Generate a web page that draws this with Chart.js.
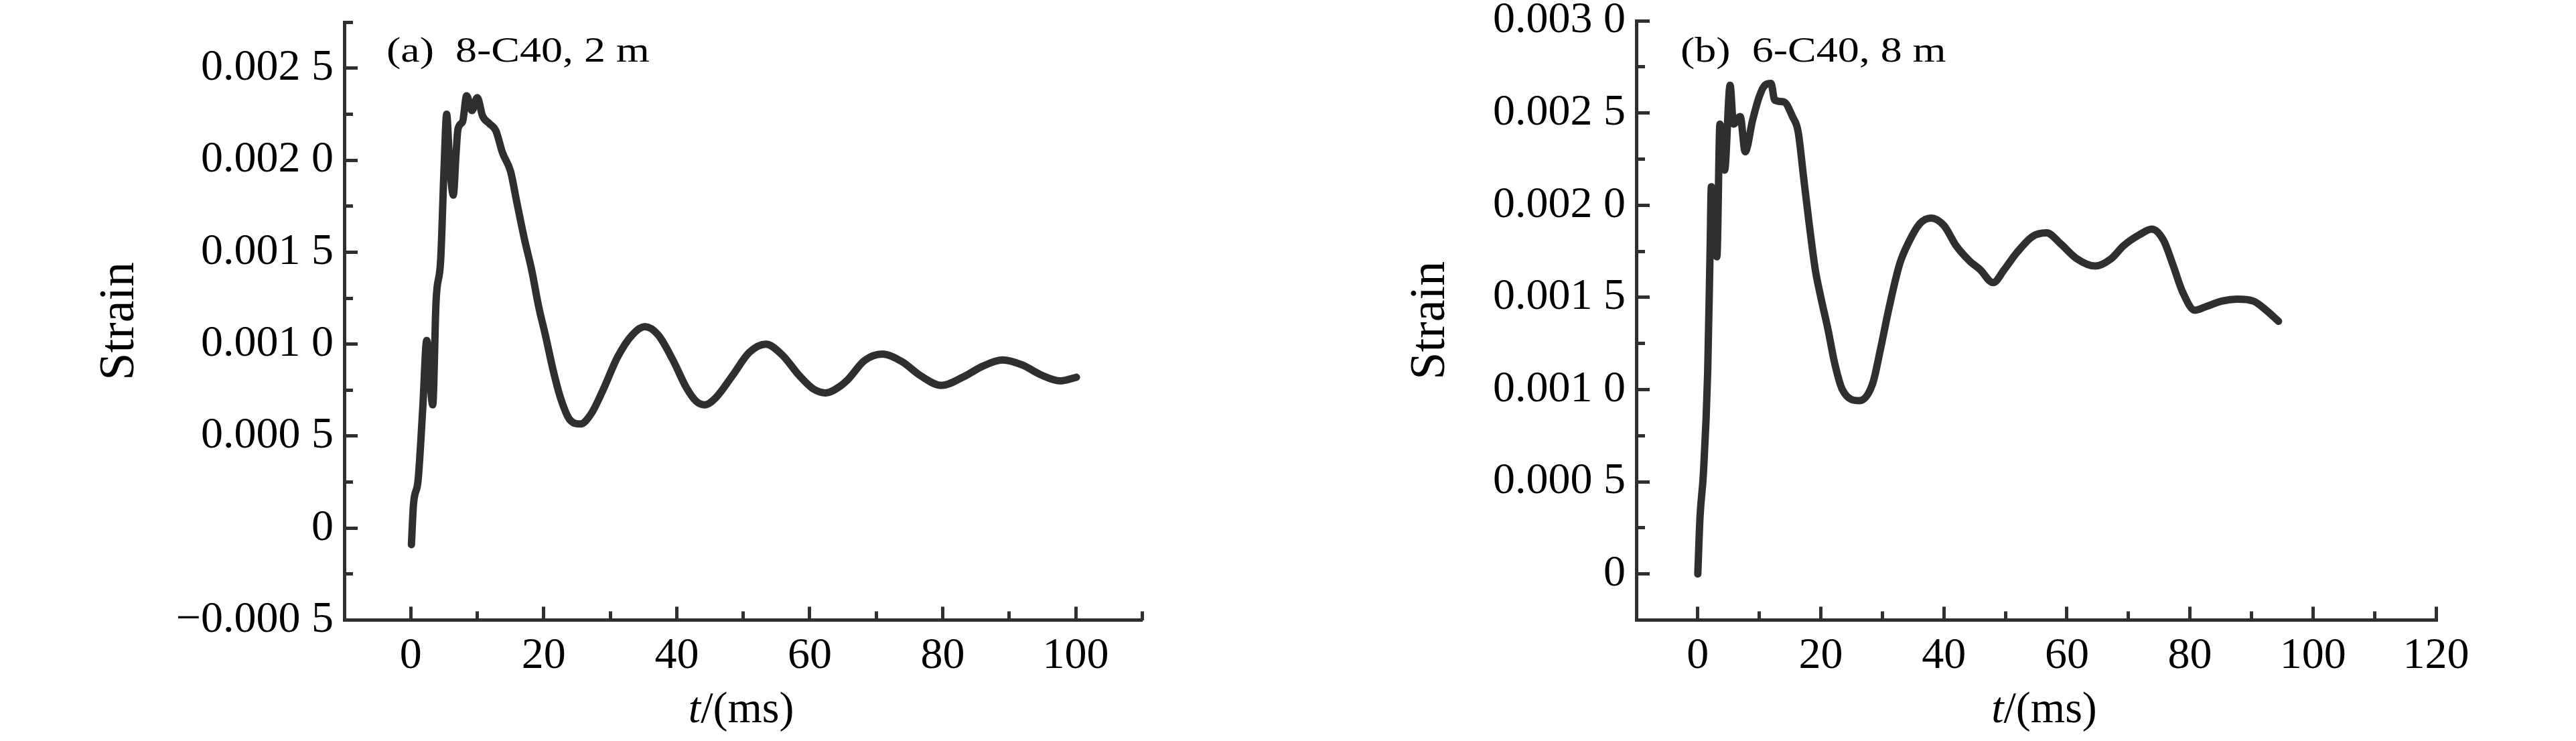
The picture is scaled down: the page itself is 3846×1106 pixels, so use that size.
<!DOCTYPE html>
<html>
<head>
<meta charset="UTF-8">
<title>Strain</title>
<script src="https://cdn.jsdelivr.net/npm/chart.js"></script>
<style>
  html, body { margin: 0; padding: 0; background: #fff; }
  .panel { position: absolute; top: 0; width: 1923px; height: 1106px; }
</style>
</head>
<body>
<div class="panel" style="left:0"><canvas id="chartA"></canvas></div>
<div class="panel" style="left:1923px"><canvas id="chartB"></canvas></div>

<script>
    // (a) 8-C40, 2 m
    const tA = [0.1, 0.4, 1.1, 1.8, 2.4, 3.3, 3.8, 4.5, 5.0, 5.4, 5.8, 6.4, 6.8, 7.1, 7.8, 8.4, 9.2, 10.0,
        10.8, 11.8, 12.8, 13.8, 15.0, 15.9, 17.1, 18.2, 19.2, 20.3, 21.4, 22.5, 23.9, 25.5, 27.1, 28.9,
        31.1, 33.3, 35.2, 37.2, 39.4, 41.5, 42.9, 44.2, 45.9, 48.4, 50.9, 53.4, 55.9, 58.4, 60.6, 62.4,
        64.5, 65.8, 68.2, 70.9, 73.9, 76.6, 79.8, 83.0, 86.0, 89.0, 92.0, 94.7, 97.7, 100.1];
    const strainA = [-0.00009, 0.000125, 0.00026, 0.00065, 0.00102, 0.00067, 0.00123, 0.00146, 0.00195,
        0.00225, 0.00201, 0.00181, 0.00203, 0.00217, 0.00221, 0.00235, 0.00227, 0.00234, 0.00224, 0.0022,
        0.00216, 0.00204, 0.00194, 0.00178, 0.00157, 0.0014, 0.00121, 0.00104, 0.00086, 0.00071, 0.00059,
        0.000566, 0.00062, 0.00075, 0.00093, 0.00105, 0.001095, 0.00105, 0.000915, 0.00076, 0.00069,
        0.00067, 0.00071, 0.00083, 0.000955, 0.001, 0.00094, 0.00083, 0.000755, 0.000735, 0.00077,
        0.00081, 0.00091, 0.000946, 0.000904, 0.00083, 0.000776, 0.00082, 0.00088, 0.000914, 0.000886,
        0.000834, 0.0008, 0.00082];

    // (b) 6-C40, 8 m
    const tB = [0.0, 0.36, 0.9, 1.6, 2.0, 2.2, 2.65, 3.1, 3.6, 4.35, 5.25, 5.8, 6.9, 7.7, 8.9, 10.0, 10.9,
        11.9, 12.5, 14.0, 15.4, 16.3, 17.2, 18.1, 19.1, 20.0, 21.2, 22.2, 23.5, 26.3, 28.4, 29.7, 31.0,
        32.8, 34.3, 36.1, 37.9, 40.0, 42.0, 44.1, 45.9, 48.0, 49.8, 51.8, 54.4, 56.7, 59.0, 61.6, 64.6,
        67.2, 69.2, 71.8, 73.8, 75.7, 77.2, 78.8, 80.8, 82.6, 85.2, 87.7, 90.3, 92.4, 94.4];
    const strainB = [0.0, 0.00031, 0.00054, 0.00109, 0.00176, 0.0021, 0.00183, 0.00172, 0.00244, 0.00219,
        0.00265, 0.00244, 0.00248, 0.00229, 0.00246, 0.00259, 0.00265, 0.00266, 0.00257, 0.00256, 0.00248,
        0.0024, 0.00215, 0.0019, 0.00165, 0.0015, 0.00132, 0.00115, 0.001, 0.00094, 0.00103, 0.00122,
        0.00143, 0.00168, 0.0018, 0.0019, 0.00193, 0.00189, 0.00178, 0.0017, 0.00165, 0.00158, 0.00165,
        0.00174, 0.00183, 0.00185, 0.00179, 0.00171, 0.00167, 0.00171, 0.00178, 0.00184, 0.00187, 0.00181,
        0.00168, 0.00153, 0.00143, 0.00145, 0.00148, 0.00149, 0.00148, 0.00143, 0.00137];

    // ticks
    const xTicksA = [0, 20, 40, 60, 80, 100];
    const xMinorA = [10, 30, 50, 70, 90, 110];
    const xTicksB = [0, 20, 40, 60, 80, 100, 120];
    const xMinorB = [10, 30, 50, 70, 90, 110];
    const yTicksA = [-0.0005, 0, 0.0005, 0.001, 0.0015, 0.002, 0.0025];
    const yLabelsA = ['\u22120.000 5', '0', '0.000 5', '0.001 0', '0.001 5', '0.002 0', '0.002 5'];
    const yMinorA = [-0.00025, 0.00025, 0.00075, 0.00125, 0.00175, 0.00225, 0.00275];
    const yTicksB = [0, 0.0005, 0.001, 0.0015, 0.002, 0.0025, 0.003];
    const yLabelsB = ['0', '0.000 5', '0.001 0', '0.001 5', '0.002 0', '0.002 5', '0.003 0'];
    const yMinorB = [0.00025, 0.00075, 0.00125, 0.00175, 0.00225, 0.00275];

    const FONT = "'Liberation Serif', 'Times New Roman', serif";
    const INK = '#2f2f2f';

    // панельная подпись и подпись оси x (курсивная t)
    function panelText(label, labelX, shift) {
        return {
            id: 'panelText',
            afterDraw(chart) {
                const ctx = chart.ctx, area = chart.chartArea;
                ctx.save();
                ctx.fillStyle = '#000';
                ctx.textBaseline = 'alphabetic';
                ctx.font = '64px ' + FONT;
                ctx.translate(labelX, 92);
                ctx.scale(1, 0.82);
                ctx.fillText(label, 0, 0);
                ctx.restore();

                ctx.save();
                ctx.fillStyle = '#000';
                ctx.textBaseline = 'alphabetic';
                ctx.font = 'italic 66px ' + FONT;
                const wT = ctx.measureText('t').width;
                ctx.font = '66px ' + FONT;
                const wR = ctx.measureText('/(ms)').width;
                const x0 = (area.left + area.right) / 2 + shift - (wT + wR) / 2;
                ctx.font = 'italic 66px ' + FONT;
                ctx.fillText('t', x0, 1078);
                ctx.font = '66px ' + FONT;
                ctx.fillText('/(ms)', x0 + wT, 1078);
                ctx.restore();
            }
        };
    }

    function makeChart(id, o) {
        const setTicks = list => s => { s.ticks = list.map(v => ({value: v})); };
        const ctx = document.getElementById(id).getContext('2d');
        return new Chart(ctx, {
            type: 'line',
            data: {
                datasets: [{
                    data: o.t.map((t, i) => ({x: t, y: o.strain[i]})),
                    xAxisID: 'x',
                    yAxisID: 'y',
                    borderColor: INK,
                    borderWidth: 11,
                    borderCapStyle: 'round',
                    borderJoinStyle: 'round',
                    pointRadius: 0,
                    cubicInterpolationMode: 'monotone',
                    fill: false
                }]
            },
            options: {
                responsive: true,
                maintainAspectRatio: false,
                animation: false,
                layout: {autoPadding: false, padding: {left: 0, right: o.rightPad, top: o.topPad, bottom: 0}},
                plugins: {legend: {display: false}, tooltip: {enabled: false}},
                scales: {
                    x: {
                        type: 'linear', position: 'bottom', weight: 1,
                        min: -10, max: o.xMax,
                        afterBuildTicks: setTicks(o.xTicks),
                        afterFit: s => { s.height = 180.5; s.paddingLeft = 0; s.paddingRight = 0; },
                        border: {display: true, color: INK, width: 5},
                        grid: {drawOnChartArea: false, drawTicks: true, tickLength: -20, tickWidth: 5, tickColor: INK},
                        ticks: {
                            autoSkip: false, maxRotation: 0, padding: 35, color: '#000',
                            font: {family: FONT, size: 66},
                            callback: (v, i) => String(o.xTicks[i])
                        }
                    },
                    xMinor: {
                        type: 'linear', axis: 'x', position: 'bottom', weight: 0,
                        min: -10, max: o.xMax,
                        afterBuildTicks: setTicks(o.xMinor),
                        afterFit: s => { s.height = 0; s.paddingLeft = 0; s.paddingRight = 0; },
                        border: {display: false},
                        grid: {drawOnChartArea: false, drawTicks: true, tickLength: -13, tickWidth: 5, tickColor: INK},
                        ticks: {display: false}
                    },
                    y: {
                        type: 'linear', position: 'left', weight: 1,
                        min: o.yMin, max: o.yMax,
                        afterBuildTicks: setTicks(o.yTicks),
                        afterFit: s => { s.width = o.axisW; s.paddingTop = 0; s.paddingBottom = 0; },
                        border: {display: true, color: INK, width: 5},
                        grid: {drawOnChartArea: false, drawTicks: true, tickLength: -20, tickWidth: 5, tickColor: INK},
                        ticks: {
                            autoSkip: false, padding: 36, color: '#000',
                            font: {family: FONT, size: 66},
                            callback: (v, i) => o.yLabels[i]
                        },
                        title: {
                            display: true, text: 'Strain', color: '#000',
                            font: {family: FONT, size: 74},
                            padding: {top: o.strainPad, bottom: 0}
                        }
                    },
                    yMinor: {
                        type: 'linear', axis: 'y', position: 'left', weight: 0,
                        min: o.yMin, max: o.yMax,
                        afterBuildTicks: setTicks(o.yMinor),
                        afterFit: s => { s.width = 0; s.paddingTop = 0; s.paddingBottom = 0; },
                        border: {display: false},
                        grid: {drawOnChartArea: false, drawTicks: true, tickLength: -13, tickWidth: 5, tickColor: INK},
                        ticks: {display: false}
                    }
                }
            },
            plugins: [panelText(o.label, o.labelX, o.xTitleShift)]
        });
    }

    makeChart('chartA', {
        t: tA, strain: strainA, xMax: 110, xTicks: xTicksA, xMinor: xMinorA,
        yMin: -0.0005, yMax: 0.00275, yTicks: yTicksA, yLabels: yLabelsA, yMinor: yMinorA,
        axisW: 514, rightPad: 217.6, topPad: 33.2, strainPad: 135,
        label: '(a)  8-C40, 2 m', labelX: 577, xTitleShift: -3
    });

    makeChart('chartB', {
        t: tB, strain: strainB, xMax: 120, xTicks: xTicksB, xMinor: xMinorB,
        yMin: -0.00025, yMax: 0.003, yTicks: yTicksB, yLabels: yLabelsB, yMinor: yMinorB,
        axisW: 520, rightPad: 209, topPad: 31, strainPad: 169,
        label: '(b)  6-C40, 8 m', labelX: 586, xTitleShift: 12
    });
</script>
</body>
</html>
